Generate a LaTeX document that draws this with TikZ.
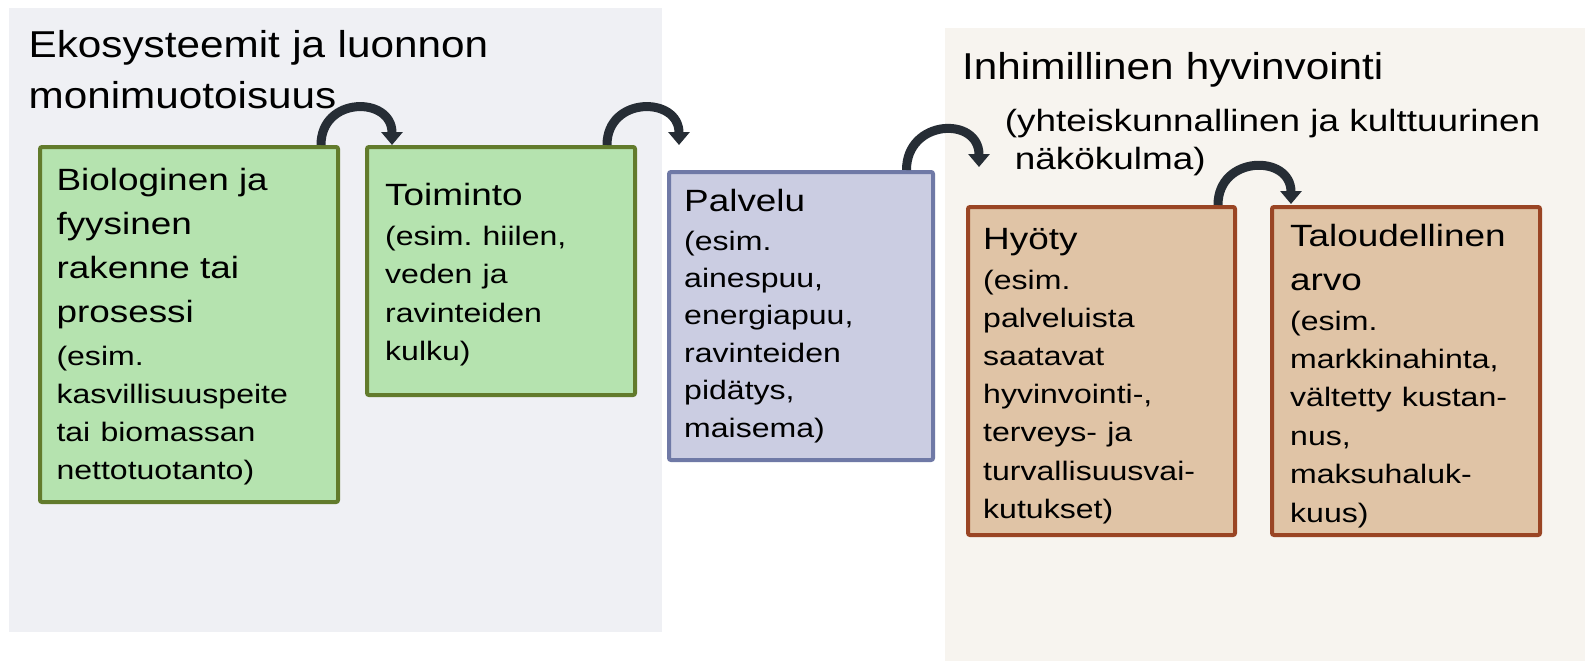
\documentclass[tikz,border=0pt]{standalone}
\usepackage{fontspec}
\setmainfont{Liberation Sans}
\newfontfamily\titlef[FakeStretch=1.13]{Liberation Sans}
\newfontfamily\bodyf[FakeStretch=1.2]{Liberation Sans}
\usetikzlibrary{arrows.meta}
\frenchspacing
\definecolor{panelL}{HTML}{EFF0F4}
\definecolor{panelR}{HTML}{F7F4EF}
\definecolor{gfill}{HTML}{B5E3AF}
\definecolor{gline}{HTML}{627B2C}
\definecolor{pfill}{HTML}{CBCDE2}
\definecolor{pline}{HTML}{6F79A6}
\definecolor{ofill}{HTML}{E0C4A6}
\definecolor{oline}{HTML}{9A4524}
\definecolor{arrowc}{HTML}{262D35}
\newcommand\sm{\fontsize{26.7}{44}\selectfont}
\tikzset{
  box/.style={draw, line width=4pt, rounded corners=2pt, anchor=north west, inner sep=0pt},
  gbox/.style={box, draw=gline, fill=gfill},
  pbox/.style={box, draw=pline, fill=pfill},
  obox/.style={box, draw=oline, fill=ofill},
  txt/.style={anchor=base west, align=left, inner sep=0pt, text width=600pt,
    font=\bodyf\fontsize{30.75}{44}\selectfont\frenchspacing},
  ttl/.style={anchor=base west, align=left, inner sep=0pt, text width=600pt,
    font=\titlef\fontsize{37.4}{51}\selectfont},
  conn/.style={draw=arrowc, line width=9pt, -{Triangle[width=21pt,length=13pt]}}
}
\begin{document}
\begin{tikzpicture}[x=1pt,y=-1pt]
\useasboundingbox (0,0) rectangle (1585,661);
\fill[white] (0,0) rectangle (1585,661);
% panels
\fill[panelL] (9,8) rectangle (662,632);
\fill[panelR] (945,28) rectangle (1585,661);
% titles
\node[ttl] (tl) at (28.4,57.3) {Ekosysteemit ja luonnon\\monimuotoisuus};
\node[ttl] (tr) at (962,80) {Inhimillinen hyvinvointi};
\node[txt, font=\bodyf\fontsize{30.75}{39}\selectfont] (trs) at (1004.7,131)
  {(yhteiskunnallinen ja kulttuurinen\\\hspace*{10pt}näkökulma)};
% boxes
\node[gbox, minimum width=298pt, minimum height=355pt] (b1) at (38,145) {};
\node[gbox, minimum width=268pt, minimum height=248pt] (b2) at (365,145) {};
\node[pbox, minimum width=264pt, minimum height=288pt] (b3) at (667,170) {};
\node[obox, minimum width=267pt, minimum height=328pt] (b4) at (966,205) {};
\node[obox, minimum width=268pt, minimum height=328pt] (b5) at (1270,205) {};
% box texts
\node[txt] (x1) at (56.3,190) {Biologinen ja\\fyysinen\\rakenne tai\\prosessi\\[-1pt]%
  \sm (esim.\\[-6pt]\sm kasvillisuuspeite\\[-6pt]\sm tai biomassan\\[-6pt]\sm nettotuotanto)};
\node[txt] (x2) at (385,205) {Toiminto\\[-3.5pt]%
  \sm (esim. hiilen,\\[-5.7pt]\sm veden ja\\[-5.7pt]\sm ravinteiden\\[-5.7pt]\sm kulku)};
\node[txt] (x3) at (684,211) {Palvelu\\[-5pt]%
  \sm (esim.\\[-6.6pt]\sm ainespuu,\\[-6.6pt]\sm energiapuu,\\[-6.6pt]\sm ravinteiden\\[-6.6pt]\sm pidätys,\\[-6.6pt]\sm maisema)};
\node[txt] (x4) at (983,249) {Hyöty\\[-4pt]%
  \sm (esim.\\[-5.8pt]\sm palveluista\\[-5.8pt]\sm saatavat\\[-5.8pt]\sm hyvinvointi-,\\[-5.8pt]\sm terveys- ja\\[-5.8pt]\sm turvallisuusvai-\\[-5.8pt]\sm kutukset)};
\node[txt] (x5) at (1290,246) {Taloudellinen\\arvo\\[-4pt]%
  \sm (esim.\\[-5.6pt]\sm markkinahinta,\\[-5.6pt]\sm vältetty kustan-\\[-5.6pt]\sm nus,\\[-5.6pt]\sm maksuhaluk-\\[-5.6pt]\sm kuus)};
% curved arrows
\draw[conn] ([xshift=-19pt]b1.north east) .. controls +(0,-49) and +(0,-49) .. ([xshift=27pt]b2.north west);
\draw[conn] ([xshift=-30pt]b2.north east) .. controls +(0,-49) and +(0,-49) .. ([xshift=12pt,yshift=25pt]b3.north west);
\draw[conn] ([xshift=-28.5pt]b3.north east) .. controls +(0,-51) and +(0,-51) .. ([xshift=13pt,yshift=38pt]b4.north west);
\draw[conn] ([xshift=-19pt]b4.north east) .. controls +(0,-50) and +(0,-50) .. ([xshift=21pt,yshift=1pt]b5.north west);
\end{tikzpicture}
\end{document}
